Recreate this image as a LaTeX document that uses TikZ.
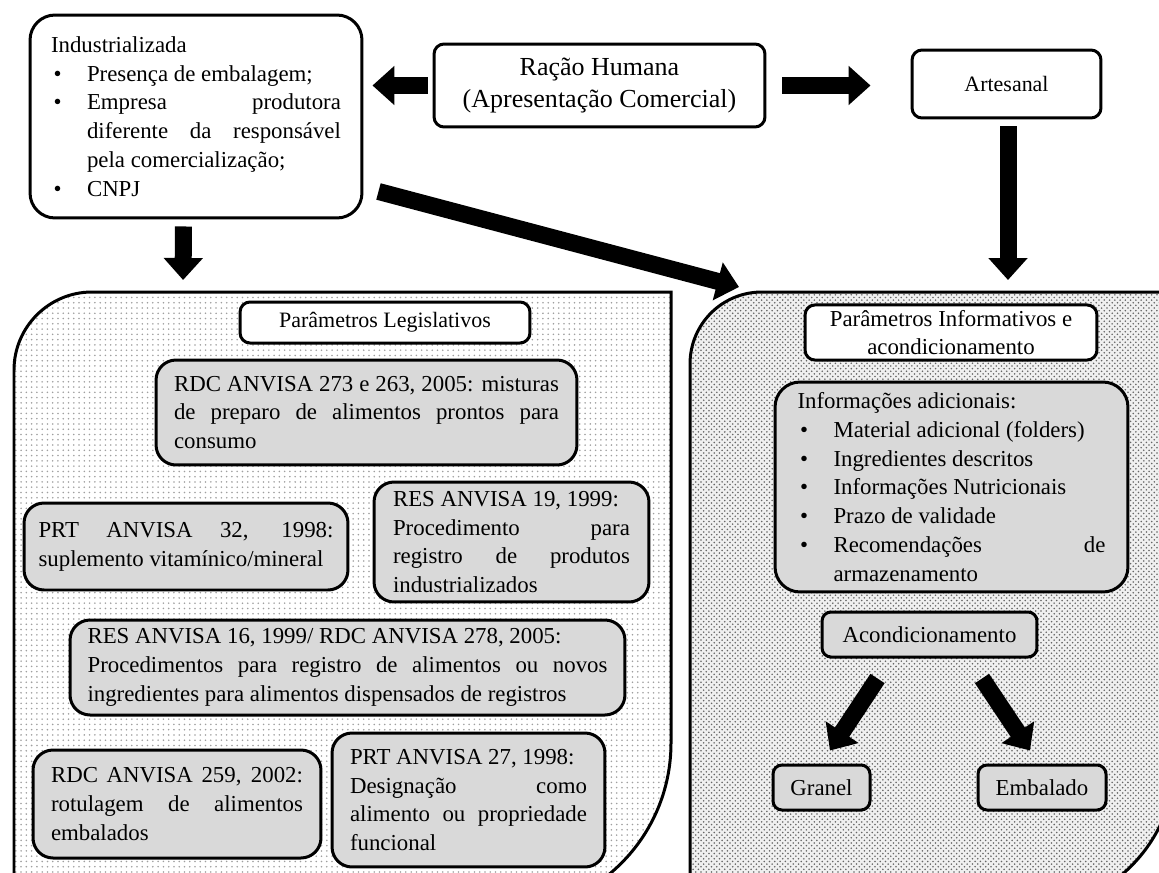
\documentclass[tikz,border=0pt]{standalone}
\usepackage{fontspec}
\setmainfont{Liberation Serif}
\usepackage{tikz}
\usetikzlibrary{arrows.meta,calc,patterns,positioning}
\definecolor{boxgray}{RGB}{217,217,217}
\hyphenpenalty=10000
\exhyphenpenalty=10000
\newcommand\bodyfont{\fontsize{13}{16.4}\selectfont}
\newenvironment{bullets}{%
  \begin{list}{\textbullet}{%
    \setlength{\leftmargin}{0.72cm}\setlength{\labelwidth}{0.72cm}%
    \setlength{\labelsep}{0pt}\setlength{\itemsep}{0pt}%
    \setlength{\topsep}{0pt}\setlength{\parsep}{0pt}\setlength{\partopsep}{0pt}%
    \renewcommand{\makelabel}[1]{\hspace{0.05cm}##1\hfil}}}%
  {\end{list}}
\tikzset{
  box/.style={draw,line width=0.06cm,rounded corners=0.4cm,fill=boxgray,inner sep=0.1cm},
  smallbox/.style={box,rounded corners=0.18cm},
  whitebox/.style={draw,line width=0.06cm,rounded corners=0.2cm,fill=white,inner sep=0.1cm},
  fatarrow/.style={line width=0.34cm,-{Triangle[length=0.44cm,width=0.76cm]}},
  panel/.style={draw,line width=0.06cm},
  every node/.style={font=\bodyfont}
}

\begin{document}
\begin{tikzpicture}[x=0.02cm,y=-0.02cm]
  \useasboundingbox (0,0) rectangle (1159,872);
  % panels
  \path[panel,pattern=dots,pattern color=gray!75]
    (14,913) -- (14,370) .. controls (14,327) and (49,292) .. (92,292)
    -- (671,292) -- (671,743) .. controls (671,837) and (595,913) .. (501,913) -- cycle;
  \fill[gray!12]
    (690,910) -- (690,364) .. controls (690,324) and (722,292) .. (762,292)
    -- (1175,292) -- (1175,760) .. controls (1175,843) and (1108,910) .. (1025,910) -- cycle;
  \path[panel,pattern=crosshatch dots,pattern color=black!60]
    (690,910) -- (690,364) .. controls (690,324) and (722,292) .. (762,292)
    -- (1175,292) -- (1175,760) .. controls (1175,843) and (1108,910) .. (1025,910) -- cycle;
  \coordinate (lptop) at (183,292);
  \coordinate (rptop) at (1008,292);
  \coordinate (rpcorner) at (739,287);

  % top row
  \node[whitebox,rounded corners=0.5cm,minimum width=6.64cm,minimum height=4.06cm,
    text width=5.8cm,align=justify] (ind) at (196,116.5)
    {Industrializada
     \begin{bullets}
       \item Presença de embalagem;
       \item Empresa produtora diferente da responsável pela comercialização;
       \item CNPJ
     \end{bullets}};
  \node[whitebox,minimum width=6.62cm,minimum height=1.66cm,align=center,
    font=\fontsize{14.8}{18.2}\selectfont] (racao) at (599.5,85.5)
    {Ração Humana\\(Apresentação Comercial)};
  \node[whitebox,minimum width=3.78cm,minimum height=1.36cm,
    font=\fontsize{12.5}{15}\selectfont] (art) at (1006.5,84) {Artesanal};

  % legislative panel
  \node[whitebox,minimum width=5.8cm,minimum height=0.82cm,
    font=\fontsize{12.5}{15}\selectfont] (leg) at (385,322.5) {Parâmetros Legislativos};
  \node[box,minimum width=8.42cm,minimum height=2.1cm,text width=7.7cm,align=justify]
    (rdc273) at (366.5,412.5)
    {RDC ANVISA 273 e 263, 2005: misturas de preparo de alimentos prontos para consumo};
  \node[box,minimum width=6.48cm,minimum height=1.74cm,text width=5.9cm,align=justify]
    (prt32) at (186,546.5) {PRT ANVISA 32, 1998: suplemento vitamínico/mineral};
  \node[box,minimum width=5.5cm,minimum height=2.4cm,text width=4.74cm,align=justify]
    (res19) at (511.5,542)
    {RES ANVISA 19, 1999:\\ Procedimento para registro de produtos industrializados};
  \node[box,minimum width=11.1cm,minimum height=1.9cm,text width=10.4cm,align=justify]
    (res16) at (347.5,667.5)
    {RES ANVISA 16, 1999/ RDC ANVISA 278, 2005:\\ Procedimentos para registro de
     alimentos ou novos ingredientes para alimentos dispensados de registros};
  \node[box,minimum width=5.76cm,minimum height=2.16cm,text width=5.04cm,align=justify]
    (rdc259) at (177,804) {RDC ANVISA 259, 2002: rotulagem de alimentos embalados};
  \node[box,minimum width=5.46cm,minimum height=2.68cm,text width=4.74cm,align=justify]
    (prt27) at (468.5,800)
    {PRT ANVISA 27, 1998:\\ Designação como alimento ou propriedade funcional};

  % informative panel
  \node[whitebox,minimum width=5.84cm,minimum height=1.1cm,align=center]
    (inf) at (951,332.5) {Parâmetros Informativos e\\acondicionamento};
  \node[box,rounded corners=0.5cm,minimum width=7.06cm,minimum height=4.2cm,
    text width=6.16cm,align=justify] (add) at (951.5,487)
    {Informações adicionais:
     \begin{bullets}
       \item Material adicional (folders)
       \item Ingredientes descritos
       \item Informações Nutricionais
       \item Prazo de validade
       \item Recomendações de armazenamento
     \end{bullets}};
  \node[smallbox,minimum width=4.3cm,minimum height=0.9cm] (acond) at (929.5,634.5) {Acondicionamento};
  \node[smallbox,minimum width=1.94cm,minimum height=0.9cm] (granel) at (821.5,787.5) {Granel};
  \node[smallbox,minimum width=2.56cm,minimum height=0.9cm] (emb) at (1042,787.5) {Embalado};

  % arrows
  \draw[fatarrow,shorten <=0.1cm,shorten >=0.18cm] (racao.west) -- (racao.west -| ind.east);
  \draw[fatarrow,shorten <=0.32cm,shorten >=0.8cm] (racao.east) -- (racao.east -| art.west);
  \draw[fatarrow,shorten <=0.14cm,shorten >=0.24cm]
    ([xshift=-0.25cm]ind.south) -- (lptop);
  \draw[fatarrow] ([shift={(15,-28)}]ind.south east) -- (rpcorner);
  \draw[fatarrow,shorten <=0.14cm,shorten >=0.24cm] (art.south -| rptop) -- (rptop);
  \draw[fatarrow] ([shift={(-52,20)}]acond.south) -- ([shift={(8.5,-13)}]granel.north);
  \draw[fatarrow] ([shift={(52.5,20)}]acond.south) -- ([shift={(-12,-13)}]emb.north);
\end{tikzpicture}
\end{document}
